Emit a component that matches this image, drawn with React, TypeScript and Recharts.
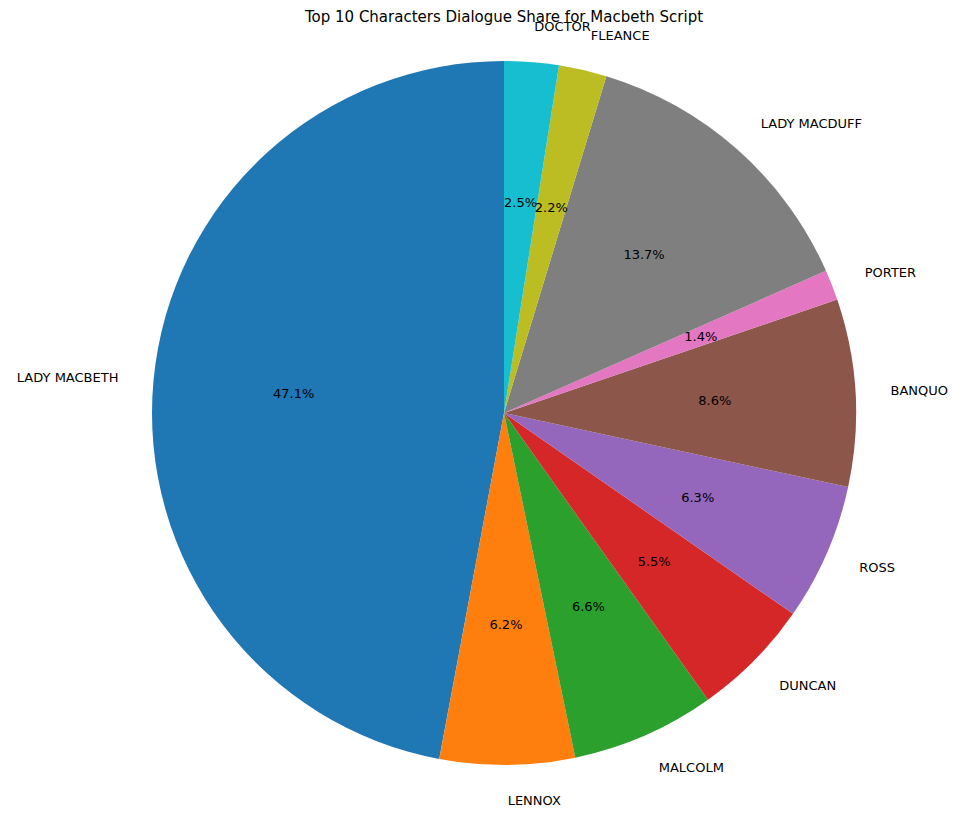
import React from "react";
import { PieChart, Pie, Cell } from "recharts";

const names = ["LADY MACBETH", "LENNOX", "MALCOLM", "DUNCAN", "ROSS", "BANQUO", "PORTER", "LADY MACDUFF", "FLEANCE", "DOCTOR"];
const values = [47.1, 6.2, 6.6, 5.5, 6.3, 8.6, 1.4, 13.7, 2.2, 2.5];
const colors = ["#1f77b4", "#ff7f0e", "#2ca02c", "#d62728", "#9467bd", "#8c564b", "#e377c2", "#7f7f7f", "#bcbd22", "#17becf"];

const data = names.map((n, i) => ({ name: n, value: values[i] }));
const RAD = Math.PI / 180;

const renderLabel = (p: any) => {
  const { cx, cy, midAngle, outerRadius, name, value } = p;
  const cos = Math.cos(-midAngle * RAD);
  const sin = Math.sin(-midAngle * RAD);
  const lx = cx + outerRadius * 1.1 * cos;
  const ly = cy + outerRadius * 1.1 * sin;
  const px = cx + outerRadius * 0.6 * cos;
  const py = cy + outerRadius * 0.6 * sin;
  return (
    <g>
      <text x={lx} y={ly} textAnchor={cos < -0.001 ? "end" : cos > 0.001 ? "start" : "middle"} dominantBaseline="central" fontSize={13} fill="#000">{name}</text>
      <text x={px} y={py} textAnchor="middle" dominantBaseline="central" fontSize={13} fill="#000">{value.toFixed(1)}%</text>
    </g>
  );
};

export default function App() {
  return (
    <div style={{ position: "absolute", left: 0, top: 0, fontFamily: "DejaVu Sans" }}>
      <PieChart width={962} height={819} margin={{ top: 0, right: 0, bottom: 0, left: 0 }}>
        <text x={504} y={17} textAnchor="middle" dominantBaseline="central" fontSize={15} fill="#000">Top 10 Characters Dialogue Share for Macbeth Script</text>
        <Pie data={data} dataKey="value" nameKey="name" cx={504} cy={413} outerRadius={352} startAngle={90} endAngle={450} stroke="none" label={renderLabel} labelLine={false} isAnimationActive={false}>
          {data.map((d, i) => <Cell key={d.name} fill={colors[i]} />)}
        </Pie>
      </PieChart>
    </div>
  );
}
